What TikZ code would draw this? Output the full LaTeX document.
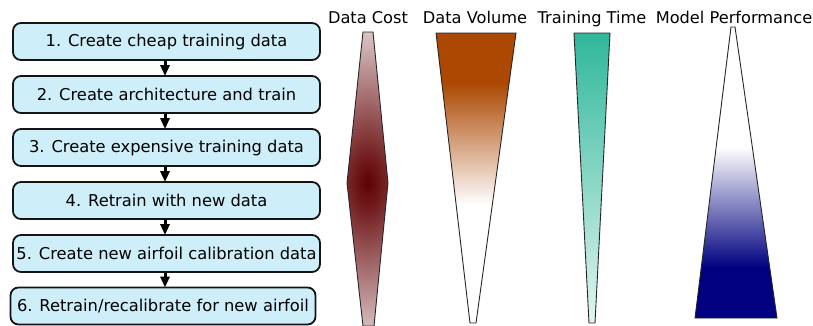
\documentclass[tikz,border=0pt]{standalone}
\usepackage{fontspec}
\setmainfont{DejaVu Sans}
\usetikzlibrary{arrows.meta}

\definecolor{boxfill}{RGB}{206,238,249}
\definecolor{boxline}{RGB}{20,20,20}
\definecolor{costlight}{RGB}{220,198,199}
\definecolor{costdark}{RGB}{118,34,36}
\definecolor{costcore}{RGB}{92,0,4}
\definecolor{volorange}{RGB}{172,72,2}
\definecolor{timetop}{RGB}{47,183,154}
\definecolor{timebottom}{RGB}{226,246,241}
\definecolor{perfnavy}{RGB}{0,0,128}

% radial glow for the cost column: dark core, light tips
\pgfdeclareradialshading{costglow}{\pgfpoint{0bp}{0bp}}{%
  color(0bp)=(costcore); color(5bp)=(costdark); color(25bp)=(costlight); color(50bp)=(costlight)}

\tikzset{
  stepbox/.style={draw=boxline, line width=1.8pt, fill=boxfill, rounded corners=8pt,
    minimum width=307pt, minimum height=37pt, inner sep=0pt,
    font=\fontsize{16.3}{19}\selectfont},
  flowarrow/.style={draw=black, line width=3pt,
    -{Triangle[length=11pt,width=9pt]}, shorten >=-1pt},
  header/.style={font=\fontsize{16.2}{19}\selectfont, inner sep=0pt, anchor=base},
  wedge/.style={draw=black!85, line width=0.9pt, line join=miter}
}

\begin{document}
\begin{tikzpicture}[x=1pt, y=-1pt]
  \useasboundingbox (0,0) rectangle (813,325);

  % workflow steps
  \node[stepbox] (b1) at (166.5,41.5)  {1. Create cheap training data};
  \node[stepbox] (b2) at (166.5,94.5)  {2. Create architecture and train};
  \node[stepbox] (b3) at (166.5,147.5) {3. Create expensive training data};
  \node[stepbox] (b4) at (166.5,200.5) {4. Retrain with new data};
  \node[stepbox] (b5) at (166.5,253.5) {5. Create new airfoil calibration data};
  \node[stepbox, minimum width=305pt] (b6) at (163,306) {6. Retrain/recalibrate for new airfoil};

  \foreach \a/\b in {b1/b2, b2/b3, b3/b4, b4/b5, b5/b6}
    \draw[flowarrow] (\a.south -| 165,0) -- (\b.north -| 165,0);

  % column headings
  \node[header] (hcost) at (368,23.5) {Data Cost};
  \node[header] (hvol)  at (475,23.5) {Data Volume};
  \node[header] (htime) at (592,23.5) {Training Time};
  \node[header] (hperf) at (734,23.5) {Model Performance};

  % data cost: darkest in the middle
  \begin{scope}
    \clip (363,32) -- (373,32) -- (388,183) -- (374,326) -- (363,326) -- (347,183) -- cycle;
    \shade[shading=costglow] (277.5,31) rectangle (457.5,335);
  \end{scope}
  \draw[wedge] (363,32) -- (373,32) -- (388,183) -- (374,326) -- (363,326) -- (347,183) -- cycle;

  % data volume: shrinking wedge
  \begin{scope}
    \clip (436,33) -- (516,33) -- (476,323) -- (470,323) -- cycle;
    \fill[volorange] (430,32) rectangle (520,84);
    \shade[top color=volorange, bottom color=white] (430,83) rectangle (520,205);
    \fill[white] (430,204.5) rectangle (520,324);
  \end{scope}
  \draw[wedge] (436,33) -- (516,33) -- (476,323) -- (470,323) -- cycle;

  % training time: shrinking wedge
  \shade[top color=timetop, bottom color=timebottom] (574,33) -- (610,33) -- (595,323) -- (589,323) -- cycle;
  \draw[wedge] (574,33) -- (610,33) -- (595,323) -- (589,323) -- cycle;

  % model performance: growing wedge
  \begin{scope}
    \clip (731,27) -- (735,27) -- (777,318) -- (695,318) -- cycle;
    \fill[white] (690,26) rectangle (780,148);
    \shade[top color=white, bottom color=perfnavy] (690,147) rectangle (780,268);
    \fill[perfnavy] (690,267.5) rectangle (780,319);
  \end{scope}
  \draw[wedge] (731,27) -- (735,27) -- (777,318) -- (695,318) -- cycle;
\end{tikzpicture}
\end{document}
